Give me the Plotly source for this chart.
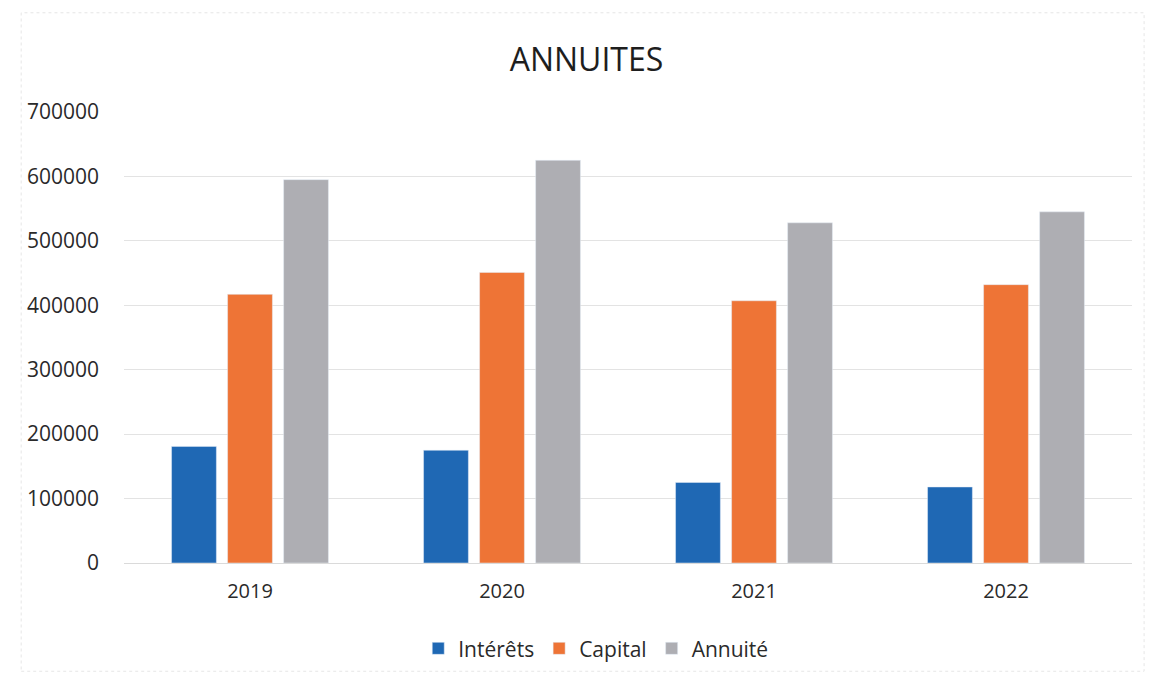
import plotly.graph_objects as go

years = ["2019", "2020", "2021", "2022"]
interets = [181000, 175000, 125000, 118000]
capital = [417000, 451000, 407000, 432000]
annuite = [595000, 625000, 528000, 545000]
y_ticks = [0, 100000, 200000, 300000, 400000, 500000, 600000, 700000]

FONT = "Open Sans"

fig = go.Figure()
fig.add_trace(go.Bar(name="Intérêts", x=years, y=interets, marker_color="#1F68B4"))
fig.add_trace(go.Bar(name="Capital", x=years, y=capital, marker_color="#EE7436"))
fig.add_trace(go.Bar(name="Annuité", x=years, y=annuite, marker_color="#AEAEB3"))

fig.update_layout(
    width=1150, height=677,
    paper_bgcolor="white", plot_bgcolor="white",
    margin=dict(l=124, r=18, t=112, b=114, autoexpand=False),
    barmode="group", bargap=0.333, bargroupgap=0.2,
    title=dict(text="ANNUITES", x=0.51, xanchor="center", y=0.912, yanchor="middle",
               font=dict(family=FONT, size=32, color="#1E1E1E")),
    font=dict(family=FONT, size=20, color="#333333"),
    legend=dict(orientation="h", x=0.468, xanchor="center", y=-0.19, yanchor="middle",
                font=dict(family=FONT, size=21, color="#2A2A2A"), itemwidth=30,
                traceorder="normal"),
    xaxis=dict(showgrid=False, showline=False, ticks="", ticklabelstandoff=14, automargin=False,
               tickfont=dict(size=20, color="#2A2A2A")),
    yaxis=dict(range=[0, 700000], tickvals=y_ticks, ticktext=[str(v) for v in y_ticks],
               showgrid=True, gridcolor="#E3E3E3", gridwidth=1, automargin=False,
               zeroline=True, zerolinecolor="#DADADA", zerolinewidth=1,
               showline=False, ticks="", ticklabelstandoff=24,
               tickfont=dict(size=21, color="#2A2A2A")),
    shapes=[dict(type="rect", xref="paper", yref="paper", x0=-0.102, x1=1.012, y0=-0.24, y1=1.22,
                 line=dict(color="#E6E6E6", width=1, dash="dot"))],
)

fig.write_html("out.html")
